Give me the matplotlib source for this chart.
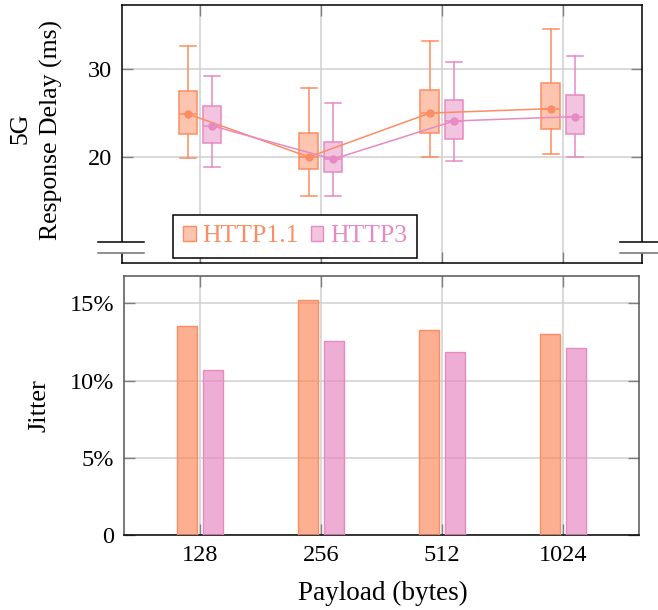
import matplotlib
matplotlib.use("Agg")
import matplotlib.pyplot as plt
from matplotlib.patches import Patch, Rectangle
from matplotlib.ticker import FuncFormatter
import numpy as np

plt.rcParams['font.family'] = ['Liberation Serif', 'DejaVu Serif']

# data
payloads = ['128', '256', '512', '1024']
protocols = ['HTTP1.1', 'HTTP3']
colors = ['#fc8d62', '#e78ac3']

# response delay box stats (ms)
h1_whislo = [19.85, 15.6, 20.0, 20.3]
h1_q1 = [22.6, 18.6, 22.7, 23.15]
h1_mean = [24.9, 20.0, 25.0, 25.5]
h1_q3 = [27.5, 22.7, 27.65, 28.4]
h1_whishi = [32.65, 27.9, 33.2, 34.55]

h3_whislo = [18.9, 15.6, 19.6, 20.0]
h3_q1 = [21.55, 18.3, 22.1, 22.6]
h3_mean = [23.55, 19.75, 24.1, 24.6]
h3_q3 = [25.75, 21.75, 26.45, 27.1]
h3_whishi = [29.25, 26.2, 30.85, 31.5]

# jitter (%)
h1_jitter = [13.55, 15.2, 13.3, 13.0]
h3_jitter = [10.7, 12.55, 11.85, 12.1]

W, H = 658, 610
fig = plt.figure(figsize=(W / 100, H / 100), dpi=100)

def px_axes(l, t, r, b):
    return fig.add_axes([l / W, 1 - b / H, (r - l) / W, (b - t) / H])

ax1 = px_axes(121.7, 5, 641.7, 263.3)
ax2 = px_axes(124, 276.3, 639, 535.3)

x = np.arange(len(payloads))
grid_kw = dict(color='#d0d0d0', lw=1.1)
tick_kw = dict(direction='in', length=8, width=1, color='#808080',
               labelsize=17.5, top=True, right=True)

# ---- top: box plots
def box_stats(lo, q1, m, q3, hi):
    return [dict(whislo=a, q1=b, med=c, mean=c, q3=d, whishi=e, fliers=[])
            for a, b, c, d, e in zip(lo, q1, m, q3, hi)]

series = [
    (box_stats(h1_whislo, h1_q1, h1_mean, h1_q3, h1_whishi), h1_mean, -0.1),
    (box_stats(h3_whislo, h3_q1, h3_mean, h3_q3, h3_whishi), h3_mean, 0.1),
]
for (stats, means, off), c in zip(series, colors):
    pos = x + off
    ax1.bxp(stats, positions=pos, widths=0.155, capwidths=0.13,
            patch_artist=True, showmeans=False, manage_ticks=False,
            boxprops=dict(facecolor=matplotlib.colors.to_rgba(c, 0.5), edgecolor=c, lw=1.1),
            whiskerprops=dict(color=c, lw=1.1), capprops=dict(color=c, lw=1.1),
            medianprops=dict(color=c, lw=1.1), zorder=3)
    ax1.plot(pos, means, color=c, lw=1.1, marker='o', ms=5, zorder=4)

ax1.set_xlim(-0.647, 3.651)
ax1.set_ylim(7.9, 37.3)
ax1.set_yticks([20, 30])
ax1.set_xticks(x)
ax1.tick_params(axis='both', **tick_kw)
ax1.tick_params(axis='y', labelcolor='black', pad=7)
ax1.tick_params(axis='x', labelbottom=False)
ax1.grid(True, **grid_kw)
ax1.set_axisbelow(True)
for s in ax1.spines.values():
    s.set_color('black')
    s.set_linewidth(1.1)

handles = [Patch(facecolor=matplotlib.colors.to_rgba(c, 0.5), edgecolor=c, lw=1) for c in colors]
leg = ax1.legend(handles, protocols, ncol=2, loc='lower left',
                 bbox_to_anchor=(0.099, 0.022), fontsize=18.5, frameon=True,
                 fancybox=False, edgecolor='black', framealpha=1,
                 handlelength=0.47, handleheight=0.55, handletextpad=0.25,
                 columnspacing=0.5, borderpad=0.4, borderaxespad=0)
leg.get_frame().set_linewidth(1.1)
leg.set_zorder(6)
for t, c in zip(leg.get_texts(), colors):
    t.set_color(c)

# axis break marks
for x0, x1 in [(-0.045, 0.042), (0.958, 1.05)]:
    ax1.add_patch(Rectangle((x0, 0.041), x1 - x0, 0.0403, transform=ax1.transAxes,
                            facecolor='white', edgecolor='none', clip_on=False, zorder=7))
    ax1.plot([x0, x1], [0.0813, 0.0813], transform=ax1.transAxes, color='black',
             lw=1.1, clip_on=False, zorder=8)
    ax1.plot([x0, x1], [0.041, 0.041], transform=ax1.transAxes, color='#707070',
             lw=1.1, clip_on=False, zorder=8)

fig.text(10 / W, 1 - 128 / H, '5G', rotation=90, ha='left', va='center', fontsize=18.5)
fig.text(40 / W, 1 - 129.5 / H, 'Response Delay (ms)', rotation=90, ha='left',
         va='center', fontsize=18.5)

# ---- bottom: jitter bars
bw = 0.168
ax2.bar(x - 0.11, h1_jitter, bw, color=matplotlib.colors.to_rgba(colors[0], 0.7),
        edgecolor=colors[0], lw=1, zorder=3)
ax2.bar(x + 0.11, h3_jitter, bw, color=matplotlib.colors.to_rgba(colors[1], 0.7),
        edgecolor=colors[1], lw=1, zorder=3)
ax2.set_xlim(-0.628, 3.628)
ax2.set_ylim(0, 16.75)
ax2.set_yticks([0, 5, 10, 15])
ax2.yaxis.set_major_formatter(FuncFormatter(lambda v, p: '0' if v == 0 else f'{int(v)}%'))
ax2.set_xticks(x)
ax2.set_xticklabels(payloads)
ax2.tick_params(axis='both', **tick_kw)
ax2.tick_params(axis='both', labelcolor='black')
ax2.tick_params(axis='y', pad=7)
ax2.tick_params(axis='x', pad=7)
ax2.grid(True, **grid_kw)
ax2.set_axisbelow(True)
for s in ax2.spines.values():
    s.set_color('#555555')
    s.set_linewidth(1.1)
ax2.spines['bottom'].set_color('black')
fig.text(383 / W, 1 - 581 / H, 'Payload (bytes)', ha='center', va='top', fontsize=19.5)
fig.text(28 / W, 1 - 406 / H, 'Jitter', rotation=90, ha='left', va='center',
         fontsize=19)

fig.savefig('out.png', dpi=100)
